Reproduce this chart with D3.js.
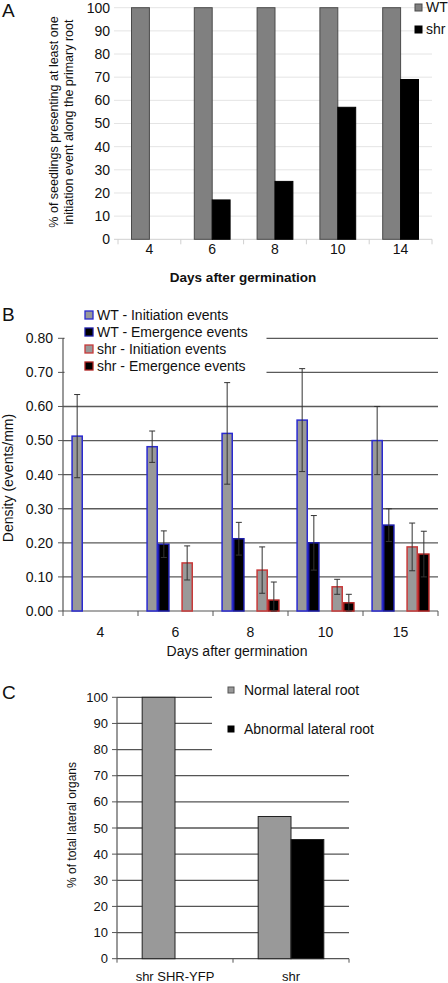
<!DOCTYPE html>
<html><head><meta charset="utf-8">
<script src="https://cdn.jsdelivr.net/npm/d3@7"></script>
<style>
html,body{margin:0;padding:0;background:#fff;}
svg{display:block;font-family:"Liberation Sans",Arial,sans-serif;}
</style></head>
<body>
<svg id="chart" width="448" height="983"></svg>
<script>
// ---------- Panel A data ----------
const daysA = ["4","6","8","10","14"];
const seriesA = ["WT","shr"];
const wtA = [100,100,100,100,100];
const shrA = [0,17,25,57,69];
const ticksA = [0,10,20,30,40,50,60,70,80,90,100];

// ---------- Panel B data ----------
const daysB = ["4","6","8","10","15"];
const seriesB = ["WT - Initiation events","WT - Emergence events","shr - Initiation events","shr - Emergence events"];
const wtInitB = [0.513,0.482,0.521,0.560,0.500];
const wtInitErrB = [0.122,0.046,0.149,0.151,0.100];
const wtEmB = [0,0.196,0.212,0.200,0.252];
const wtEmErrB = [0,0.039,0.048,0.080,0.048];
const shrInitB = [0,0.141,0.120,0.071,0.188];
const shrInitErrB = [0,0.050,0.068,0.022,0.070];
const shrEmB = [0,0,0.032,0.024,0.167];
const shrEmErrB = [0,0,0.053,0.025,0.067];
const ticksB = [0,0.1,0.2,0.3,0.4,0.5,0.6,0.7,0.8];

// ---------- Panel C data ----------
const linesC = ["shr SHR-YFP","shr"];
const seriesC = ["Normal lateral root","Abnormal lateral root"];
const normalC = [100,54.4];
const abnormalC = [0,45.6];
const ticksC = [0,10,20,30,40,50,60,70,80,90,100];

const svg = d3.select("#chart");
const FONT = "14px";

// ================= Panel A =================
(function(){
  const g = svg.append("g");
  const x0 = d3.scaleBand().domain(daysA).range([118,432]).paddingInner(0.43).paddingOuter(0.215);
  const x1 = d3.scaleBand().domain(seriesA).range([0,x0.bandwidth()]);
  const y = d3.scaleLinear().domain([0,100]).range([239.3,7.7]);
  // gridlines
  g.append("g").selectAll("line").data(ticksA.filter(t=>t>0)).join("line")
    .attr("x1",114).attr("x2",432).attr("y1",d=>y(d)).attr("y2",d=>y(d))
    .attr("stroke","#e4e4e4").attr("stroke-width",1);
  // x axis
  g.append("line").attr("x1",114).attr("x2",432).attr("y1",y(0)).attr("y2",y(0)).attr("stroke","#d0d0d0");
  const bounds = daysA.map(d=>x0(d)-x0.step()*x0.paddingOuter()).concat([432]);
  g.append("g").selectAll("line").data(bounds).join("line")
    .attr("x1",d=>d).attr("x2",d=>d).attr("y1",y(0)).attr("y2",y(0)+5).attr("stroke","#d0d0d0");
  // y tick labels
  g.append("g").selectAll("text").data(ticksA).join("text")
    .attr("x",110).attr("y",d=>y(d)).attr("dy","0.35em").attr("text-anchor","end")
    .attr("font-size",FONT).attr("fill","#111").text(d=>d);
  // x tick labels
  g.append("g").selectAll("text").data(daysA).join("text")
    .attr("x",d=>x0(d)+x0.bandwidth()/2).attr("y",254).attr("text-anchor","middle")
    .attr("font-size",FONT).attr("fill","#111").text(d=>d);
  // bars
  const rows = daysA.map((d,i)=>({day:d, vals:[{s:"WT",v:wtA[i]},{s:"shr",v:shrA[i]}]}));
  const grp = g.append("g").selectAll("g").data(rows).join("g").attr("transform",d=>`translate(${x0(d.day)},0)`);
  grp.selectAll("rect").data(d=>d.vals.filter(v=>v.v>0)).join("rect")
    .attr("x",d=>x1(d.s)).attr("width",x1.bandwidth())
    .attr("y",d=>y(d.v)).attr("height",d=>y(0)-y(d.v))
    .attr("fill",d=>d.s==="WT"?"#808080":"#000")
    .attr("stroke",d=>d.s==="WT"?"#4a4a4a":"#000").attr("stroke-width",1);
  // axis title
  g.append("text").attr("x",243).attr("y",282).attr("text-anchor","middle")
    .attr("font-size","13.5px").attr("font-weight","bold").attr("fill","#111").text("Days after germination");
  const yl = g.append("text").attr("transform","translate(60,122) rotate(-90)").attr("text-anchor","middle")
    .attr("font-size","12.5px").attr("fill","#111");
  yl.append("tspan").attr("x",0).attr("dy","-0.2em").text("% of seedlings presenting at least one");
  yl.append("tspan").attr("x",0).attr("dy","1.25em").text("initiation event along the primary root");
  // legend
  const lg = g.append("g").selectAll("g").data(seriesA).join("g")
    .attr("transform",(d,i)=>`translate(415,${4+i*22})`);
  lg.append("rect").attr("width",7).attr("height",7)
    .attr("fill",d=>d==="WT"?"#808080":"#000").attr("stroke",d=>d==="WT"?"#4a4a4a":"#000");
  lg.append("text").attr("x",11).attr("y",8).attr("font-size",FONT).attr("fill","#111").text(d=>d);
  svg.append("text").attr("x",2).attr("y",17).attr("font-size","19px").attr("fill","#111").text("A");
})();

// ================= Panel B =================
(function(){
  const g = svg.append("g");
  const x0 = d3.scaleBand().domain(daysB).range([63,438]).paddingInner(0.222).paddingOuter(0.111);
  const slots = [seriesB[0],seriesB[1],"gap",seriesB[2],seriesB[3]];
  const x1 = d3.scaleBand().domain(slots).range([0,x0.bandwidth()]);
  const y = d3.scaleLinear().domain([0,0.8]).range([611,338.3]);
  const fills = {[seriesB[0]]:"#999999",[seriesB[1]]:"#000000",[seriesB[2]]:"#999999",[seriesB[3]]:"#000000"};
  const strokes = {[seriesB[0]]:"#2a2ad0",[seriesB[1]]:"#1c1ca8",[seriesB[2]]:"#c83a3a",[seriesB[3]]:"#b02222"};
  // gridlines
  g.append("g").selectAll("line").data(ticksB.filter(t=>t>0)).join("line")
    .attr("x1",63).attr("x2",438).attr("y1",d=>y(d)).attr("y2",d=>y(d))
    .attr("stroke","#5a5a5a").attr("stroke-width",1.3);
  // axes
  g.append("line").attr("x1",63).attr("x2",63).attr("y1",y(0.8)).attr("y2",y(0)).attr("stroke","#555").attr("stroke-width",1.2);
  g.append("line").attr("x1",63).attr("x2",438).attr("y1",y(0)).attr("y2",y(0)).attr("stroke","#555").attr("stroke-width",1.2);
  g.append("g").selectAll("line").data(ticksB).join("line")
    .attr("x1",58).attr("x2",63).attr("y1",d=>y(d)).attr("y2",d=>y(d)).attr("stroke","#555");
  const bounds = daysB.map(d=>x0(d)-x0.step()*x0.paddingOuter()).concat([438]);
  g.append("g").selectAll("line").data(bounds).join("line")
    .attr("x1",d=>d).attr("x2",d=>d).attr("y1",y(0)).attr("y2",y(0)+5).attr("stroke","#555");
  g.append("g").selectAll("text").data(ticksB).join("text")
    .attr("x",53).attr("y",d=>y(d)).attr("dy","0.35em").attr("text-anchor","end")
    .attr("font-size",FONT).attr("fill","#111").text(d=>d.toFixed(2));
  g.append("g").selectAll("text").data(daysB).join("text")
    .attr("x",d=>x0(d)+x0.bandwidth()/2).attr("y",637).attr("text-anchor","middle")
    .attr("font-size",FONT).attr("fill","#111").text(d=>d);
  g.append("text").attr("x",237).attr("y",656).attr("text-anchor","middle")
    .attr("font-size",FONT).attr("fill","#111").text("Days after germination");
  g.append("text").attr("transform","translate(13,478) rotate(-90)").attr("text-anchor","middle")
    .attr("font-size",FONT).attr("fill","#111").text("Density (events/mm)");
  // bars
  const rows = daysB.map((d,i)=>({day:d, vals:[
    {s:seriesB[0],v:wtInitB[i],e:wtInitErrB[i]},
    {s:seriesB[1],v:wtEmB[i],e:wtEmErrB[i]},
    {s:seriesB[2],v:shrInitB[i],e:shrInitErrB[i]},
    {s:seriesB[3],v:shrEmB[i],e:shrEmErrB[i]}]}));
  const grp = g.append("g").selectAll("g").data(rows).join("g").attr("transform",d=>`translate(${x0(d.day)},0)`);
  const bw = x1.bandwidth();
  grp.selectAll("rect").data(d=>d.vals.filter(v=>v.v>0)).join("rect")
    .attr("x",d=>x1(d.s)+0.75).attr("width",bw-1.5)
    .attr("y",d=>y(d.v)).attr("height",d=>y(0)-y(d.v))
    .attr("fill",d=>fills[d.s]).attr("stroke",d=>strokes[d.s]).attr("stroke-width",1.5);
  // error bars
  const eb = grp.selectAll("g.eb").data(d=>d.vals.filter(v=>v.v>0)).join("g").attr("class","eb");
  eb.append("line").attr("x1",d=>x1(d.s)+bw/2).attr("x2",d=>x1(d.s)+bw/2)
    .attr("y1",d=>y(d.v+d.e)).attr("y2",d=>y(Math.max(0,d.v-d.e))).attr("stroke","#333").attr("stroke-width",1);
  eb.append("line").attr("x1",d=>x1(d.s)+bw/2-3).attr("x2",d=>x1(d.s)+bw/2+3)
    .attr("y1",d=>y(d.v+d.e)).attr("y2",d=>y(d.v+d.e)).attr("stroke","#333").attr("stroke-width",1);
  eb.append("line").attr("x1",d=>x1(d.s)+bw/2-3).attr("x2",d=>x1(d.s)+bw/2+3)
    .attr("y1",d=>y(Math.max(0,d.v-d.e))).attr("y2",d=>y(Math.max(0,d.v-d.e))).attr("stroke","#333").attr("stroke-width",1);
  // legend
  g.append("rect").attr("x",64.5).attr("y",304).attr("width",202).attr("height",71).attr("fill","#fff");
  const lg = g.append("g").selectAll("g").data(seriesB).join("g")
    .attr("transform",(d,i)=>`translate(85,${311+i*17})`);
  lg.append("rect").attr("width",8).attr("height",8)
    .attr("fill",d=>fills[d]).attr("stroke",d=>strokes[d]).attr("stroke-width",1.3);
  lg.append("text").attr("x",12).attr("y",9).attr("font-size",FONT).attr("fill","#111").text(d=>d);
  svg.append("text").attr("x",2).attr("y",321).attr("font-size","19px").attr("fill","#111").text("B");
})();

// ================= Panel C =================
(function(){
  const g = svg.append("g");
  const x0 = d3.scaleBand().domain(linesC).range([117,349]).paddingInner(0.434).paddingOuter(0.217);
  const x1 = d3.scaleBand().domain(seriesC).range([0,x0.bandwidth()]);
  const y = d3.scaleLinear().domain([0,100]).range([958.7,697.3]);
  const fills = {[seriesC[0]]:"#999999",[seriesC[1]]:"#000000"};
  g.append("g").selectAll("line").data(ticksC.filter(t=>t>0)).join("line")
    .attr("x1",117).attr("x2",349).attr("y1",d=>y(d)).attr("y2",d=>y(d))
    .attr("stroke","#555").attr("stroke-width",1.3);
  g.append("rect").attr("x",212).attr("y",680).attr("width",236).attr("height",84).attr("fill","#fff");
  g.append("line").attr("x1",117).attr("x2",117).attr("y1",y(100)).attr("y2",y(0)).attr("stroke","#555").attr("stroke-width",1.2);
  g.append("line").attr("x1",117).attr("x2",349).attr("y1",y(0)).attr("y2",y(0)).attr("stroke","#555").attr("stroke-width",1.2);
  g.append("g").selectAll("line").data(ticksC).join("line")
    .attr("x1",112).attr("x2",117).attr("y1",d=>y(d)).attr("y2",d=>y(d)).attr("stroke","#555");
  const bounds = linesC.map(d=>x0(d)-x0.step()*x0.paddingOuter()).concat([349]);
  g.append("g").selectAll("line").data(bounds).join("line")
    .attr("x1",d=>d).attr("x2",d=>d).attr("y1",y(0)).attr("y2",y(0)+4).attr("stroke","#555");
  g.append("g").selectAll("text").data(ticksC).join("text")
    .attr("x",108).attr("y",d=>y(d)).attr("dy","0.35em").attr("text-anchor","end")
    .attr("font-size","13px").attr("fill","#111").text(d=>d);
  g.append("g").selectAll("text").data(linesC).join("text")
    .attr("x",d=>x0(d)+x0.bandwidth()/2).attr("y",981).attr("text-anchor","middle")
    .attr("font-size","13px").attr("fill","#111").text(d=>d);
  g.append("text").attr("transform","translate(76,825) rotate(-90)").attr("text-anchor","middle")
    .attr("font-size","12px").attr("fill","#111").text("% of total lateral organs");
  const rows = linesC.map((d,i)=>({l:d, vals:[{s:seriesC[0],v:normalC[i]},{s:seriesC[1],v:abnormalC[i]}]}));
  const grp = g.append("g").selectAll("g").data(rows).join("g").attr("transform",d=>`translate(${x0(d.l)},0)`);
  grp.selectAll("rect").data(d=>d.vals.filter(v=>v.v>0)).join("rect")
    .attr("x",d=>x1(d.s)).attr("width",x1.bandwidth())
    .attr("y",d=>y(d.v)).attr("height",d=>y(0)-y(d.v))
    .attr("fill",d=>fills[d.s]).attr("stroke","#222").attr("stroke-width",1);
  const lg = g.append("g").selectAll("g").data(seriesC).join("g")
    .attr("transform",(d,i)=>`translate(228,${687+i*39})`);
  lg.append("rect").attr("width",6).attr("height",6)
    .attr("fill",d=>fills[d]).attr("stroke",d=>d===seriesC[0]?"#555":"#000");
  lg.append("text").attr("x",16).attr("y",8).attr("font-size",FONT).attr("fill","#111").text(d=>d);
  svg.append("text").attr("x",2).attr("y",699).attr("font-size","19px").attr("fill","#111").text("C");
})();
</script>
</body></html>
